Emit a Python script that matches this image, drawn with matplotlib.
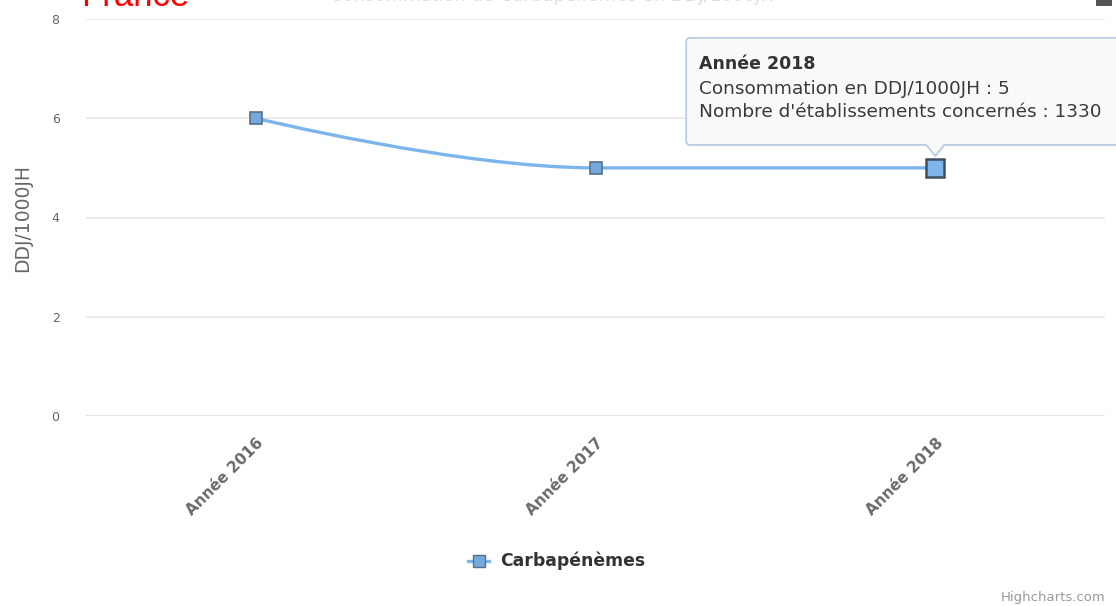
import matplotlib
matplotlib.use("Agg")
import matplotlib.pyplot as plt
from matplotlib.path import Path
from matplotlib.patches import PathPatch, Rectangle
from matplotlib.lines import Line2D

# ---- data ----
categories = ["Année 2016", "Année 2017", "Année 2018"]
values = [6, 5, 5]
etablissements = [None, None, 1330]
series_name = "Carbapénèmes"
y_ticks = [0, 2, 4, 6, 8]
y_label = "DDJ/1000JH"

W, H = 1116, 606
fig = plt.figure(figsize=(W / 100, H / 100), dpi=100)
fig.patch.set_facecolor("white")

ax = fig.add_axes([86 / W, (H - 416) / H, (1105 - 86) / W, (416 - 19) / H])
ax.set_xlim(-0.5, len(categories) - 0.5)
ax.set_ylim(0, 8)
for s in ax.spines.values():
    s.set_visible(False)
ax.set_yticks(y_ticks)
ax.set_yticklabels([str(t) for t in y_ticks], color="#666666", fontsize=9)
ax.tick_params(axis="y", length=0, pad=19)
for t in y_ticks[1:]:
    ax.axhline(t, color="#e9e9e9", lw=1.2, zorder=0)
ax.axhline(0, color="#d3dbeb", lw=1.8, zorder=0)

xpos = list(range(len(categories)))
ax.set_xticks(xpos)
ax.set_xticklabels(categories, rotation=45, ha="right", rotation_mode="anchor",
                   color="#6a6a6a", fontsize=11, fontweight="bold")
ax.tick_params(axis="x", length=0, pad=14)
ax.set_ylabel(y_label, color="#666666", fontsize=13.5, labelpad=14)

# ---- Highcharts-like spline ----
def spline_path(xs, ys, smoothing=1.5):
    n = len(xs)
    left = [None] * n
    right = [None] * n
    denom = smoothing + 1
    for i in range(1, n - 1):
        px, py = xs[i], ys[i]
        lx, ly = xs[i - 1], ys[i - 1]
        nx, ny = xs[i + 1], ys[i + 1]
        lcx = (smoothing * px + lx) / denom
        lcy = (smoothing * py + ly) / denom
        rcx = (smoothing * px + nx) / denom
        rcy = (smoothing * py + ny) / denom
        if rcx != lcx:
            corr = ((rcy - lcy) * (rcx - px)) / (rcx - lcx) + py - rcy
            lcy += corr
            rcy += corr
        if lcy > max(ly, py):
            lcy = max(ly, py); rcy = 2 * py - lcy
        elif lcy < min(ly, py):
            lcy = min(ly, py); rcy = 2 * py - lcy
        if rcy > max(py, ny):
            rcy = max(py, ny); lcy = 2 * py - rcy
        elif rcy < min(py, ny):
            rcy = min(py, ny); lcy = 2 * py - rcy
        left[i] = (lcx, lcy)
        right[i] = (rcx, rcy)
    verts = [(xs[0], ys[0])]
    codes = [Path.MOVETO]
    for i in range(1, n):
        c1 = right[i - 1] if right[i - 1] else (xs[i - 1], ys[i - 1])
        c2 = left[i] if left[i] else (xs[i], ys[i])
        verts += [c1, c2, (xs[i], ys[i])]
        codes += [Path.CURVE4] * 3
    return Path(verts, codes)

line_color = "#7cb5ec"
ax.add_patch(PathPatch(spline_path(xpos, values), fill=False, edgecolor=line_color,
                       lw=2.4, capstyle="round", joinstyle="round", zorder=3))
ax.plot(xpos[:-1], values[:-1], linestyle="none", marker="s", markersize=8.5,
        markerfacecolor="#75a9dc", markeredgecolor="#56708c", markeredgewidth=1.2, zorder=4)
ax.plot(xpos[-1:], values[-1:], linestyle="none", marker="s", markersize=12.5,
        markerfacecolor="#7cb5ec", markeredgecolor="#3f4f60", markeredgewidth=1.8, zorder=5)

# ---- tooltip ----
fig.canvas.draw()
X, Y = ax.transData.transform((xpos[-1], values[-1]))
bl, br = X - 249, X + 200
bb, bt = Y + 23, Y + 130
tip = Y + 12
r = 4
verts = [(bl + r, bb), (X - 9, bb), (X, tip), (X + 9, bb), (br, bb), (br, bt),
         (bl + r, bt), (bl, bt), (bl, bt - r), (bl, bb + r), (bl, bb), (bl + r, bb)]
codes = [Path.MOVETO, Path.LINETO, Path.LINETO, Path.LINETO, Path.LINETO, Path.LINETO,
         Path.LINETO, Path.CURVE3, Path.CURVE3, Path.LINETO, Path.CURVE3, Path.CURVE3]
shadow = Path([(vx + 1.5, vy - 1.5) for vx, vy in verts], codes)
fig.add_artist(PathPatch(shadow, transform=None, facecolor="#000000", alpha=0.06,
                         edgecolor="none", zorder=6))
fig.add_artist(PathPatch(Path(verts, codes), transform=None, facecolor="#fafafa",
                         alpha=0.96, edgecolor="#b3c9e0", lw=1.2, zorder=7))
tx = bl + 13
fig.text(tx / W, (H - 64) / H, categories[-1], color="#333333", fontsize=12.5,
         fontweight="bold", va="center", ha="left", zorder=8)
fig.text(tx / W, (H - 89) / H, f"Consommation en {y_label} : {values[-1]}",
         color="#3a3a3a", fontsize=13.3, va="center", ha="left", zorder=8)
fig.text(tx / W, (H - 112) / H,
         f"Nombre d'établissements concernés : {etablissements[-1]}",
         color="#3a3a3a", fontsize=13.3, va="center", ha="left", zorder=8)

# ---- legend ----
ly = (H - 561) / H
fig.add_artist(Line2D([468 / W, 489 / W], [ly, ly], color=line_color, lw=2.4))
fig.add_artist(Line2D([478.5 / W], [ly], marker="s", markersize=8,
                      markerfacecolor="#75a9dc", markeredgecolor="#56708c",
                      markeredgewidth=1.0, linestyle="none"))
fig.text(500 / W, ly, series_name, color="#333333", fontsize=12.4,
         fontweight="bold", va="center", ha="left")

# ---- credits, header ----
fig.text(1105 / W, (H - 597) / H, "Highcharts.com", color="#999999", fontsize=9.5,
         ha="right", va="center")
fig.text(81 / W, (H - 6) / H, "France", color="#ff0000", fontsize=25,
         family="Liberation Sans", ha="left", va="baseline")
fig.text(552 / W, (H - 1) / H, "Consommation de Carbapénèmes en DDJ/1000JH",
         color="#dddddd", fontsize=13, ha="center", va="baseline")
fig.add_artist(Rectangle((1096 / W, (H - 6) / H), 16 / W, 8 / H, transform=fig.transFigure,
                         facecolor="#555555", edgecolor="none"))

fig.savefig("out.png", dpi=100)
